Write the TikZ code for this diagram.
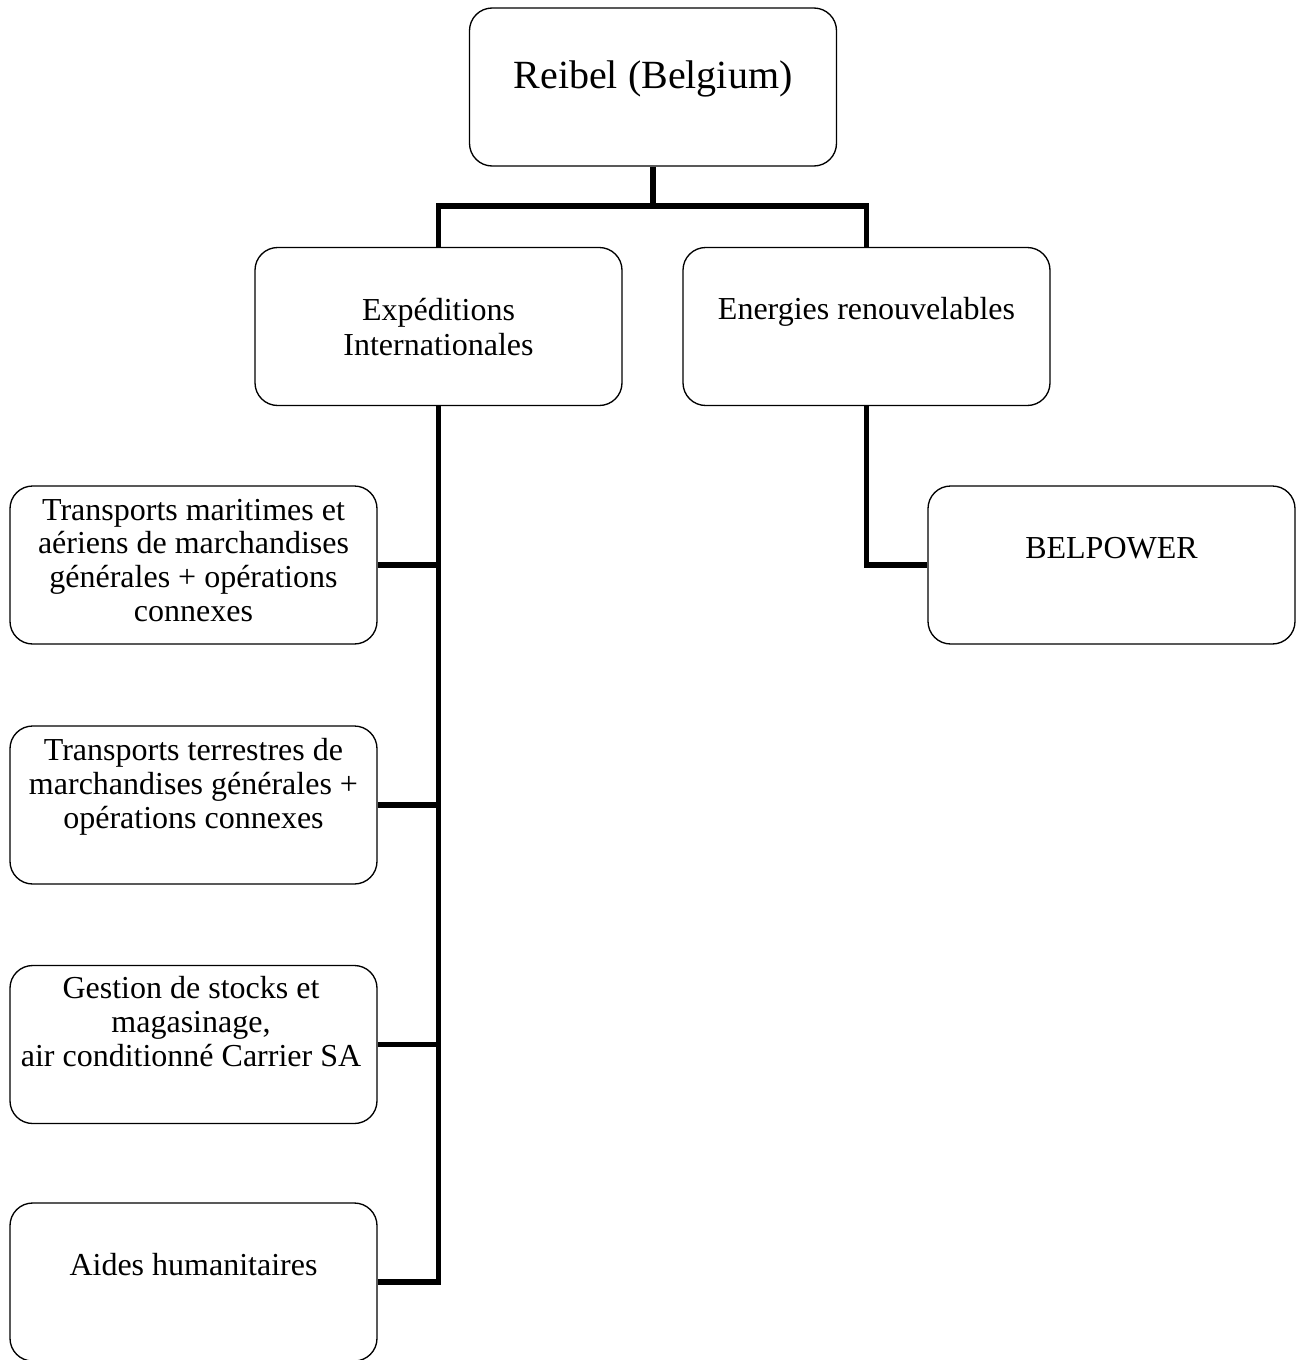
\documentclass[tikz,border=0pt]{standalone}
\usepackage{fontspec}
\setmainfont{Liberation Serif}
\def\boxw{275.25pt}
\def\boxh{118.5pt}
\tikzset{
  unit/.style={draw, line width=1pt, rounded corners=17pt, minimum width=\boxw, minimum height=\boxh, inner sep=0pt},
  caption/.style={font=\fontsize{24}{25.25}\selectfont, align=center, anchor=base, inner sep=0pt},
  link/.style={line width=4pt}
}
\begin{document}
\begin{tikzpicture}[x=0.75pt,y=-0.75pt]
\useasboundingbox (0,0) rectangle (1302,1360);

% Boxes
\node[unit] (reibel) at (653,87) {};
\node[unit] (exped) at (438.5,326.5) {};
\node[unit] (energ) at (866.5,326.5) {};
\node[unit] (belpower) at (1111.5,565) {};
\node[unit] (maritime) at (193.5,565) {};
\node[unit] (terrestre) at (193.5,805) {};
\node[unit] (stocks) at (193.5,1044.5) {};
\node[unit] (aides) at (193.5,1282) {};

% Texts (placed at the baseline of their last line)
\node[caption, font=\fontsize{30}{33}\selectfont] (reibeltxt) at (653,88) {Reibel (Belgium)};
\node[caption, font=\fontsize{24}{26.25}\selectfont] (expedtxt) at (438.5,355) {Expéditions\\Internationales};
\node[caption] (energtxt) at (866.5,319) {Energies renouvelables};
\node[caption] (belpowertxt) at (1111.5,558) {BELPOWER};
\node[caption] (maritimetxt) at (193.5,621) {Transports maritimes et\\aériens de marchandises\\générales + opérations\\connexes};
\node[caption] (terrestretxt) at (193.5,828) {Transports terrestres de\\marchandises générales +\\opérations connexes};
\node[caption] (stockstxt) at (191,1066) {Gestion de stocks et\\magasinage,\\air conditionné Carrier SA};
\node[caption] (aidestxt) at (193.5,1275) {Aides humanitaires};

% Connectors
\coordinate (fork) at (653,206);
\draw[link] (reibel.south) -- (fork);
\draw[link] (exped.north) |- (fork) -| (energ.north);
\foreach \n in {maritime,terrestre,stocks,aides} {
    \draw[link] (exped.south) |- (\n.east); % branch to the left column
}
\draw[link] (energ.south) |- (belpower.west);

\end{tikzpicture}
\end{document}
